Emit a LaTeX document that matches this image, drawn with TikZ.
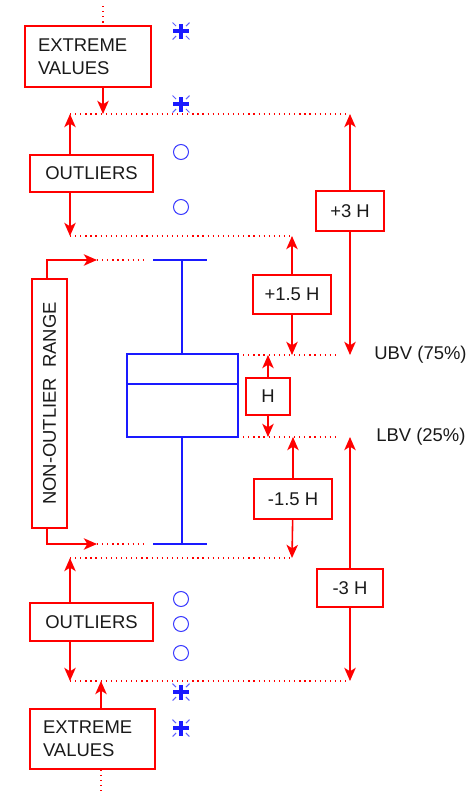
\documentclass[tikz,border=0pt]{standalone}
\usepackage{fontspec}
\setmainfont{Liberation Sans}
\usetikzlibrary{arrows.meta, positioning}
\definecolor{SignalRed}{HTML}{FF0000}
\definecolor{PlotBlue}{HTML}{1A1AFF}
\definecolor{InkBlack}{HTML}{1A1A1A}

\tikzset{
  tagbox/.style={draw=SignalRed, line width=0.9pt, fill=white, text=InkBlack,
                 inner sep=0pt, font=\fontsize{10.5}{13}\selectfont},
  guide/.style={draw=SignalRed, line width=0.9pt, dash pattern=on 0.7pt off 2.2pt},
  pointer/.style={draw=SignalRed, line width=0.9pt,
                  -{Stealth[length=7.5pt,width=6.5pt,inset=2pt]}},
  whisker/.style={draw=PlotBlue, line width=0.9pt},
  outmark/.style={draw=PlotBlue!85, line width=0.6pt},
  extmark/.pic={
    \draw[PlotBlue, line width=2.4pt] (-0.16cm,0) -- (0.16cm,0) (0,-0.15cm) -- (0,0.15cm);
    \foreach \a in {45,135,225,315}
      \draw[PlotBlue!70, line width=0.6pt] (\a:0.14cm) -- (\a:0.24cm);
  }
}

\begin{document}
\begin{tikzpicture}[x=0.02cm, y=-0.02cm]
  \useasboundingbox (0,0) rectangle (475,795);

  % labelled boxes
  \node[tagbox, text width=2.0cm, inner xsep=0.26cm, minimum height=1.22cm, align=left]
    (extTop) at (88,56.5) {EXTREME\\VALUES};
  \node[tagbox, minimum width=2.46cm, minimum height=0.74cm] (outTop) at (91.5,173.5) {OUTLIERS};
  \node[tagbox, rotate=90, minimum width=4.98cm, minimum height=0.7cm]
    (nonOut) at (49.5,403.5) {NON-OUTLIER~~RANGE};
  \node[tagbox, minimum width=1.36cm, minimum height=0.8cm] (plus3) at (350,211) {+3 H};
  \node[tagbox, minimum width=1.56cm, minimum height=0.78cm] (plus15) at (292,294.5) {+1.5 H};
  \node[tagbox, minimum width=0.88cm, minimum height=0.74cm] (hBox) at (268,396.5) {H};
  \node[tagbox, minimum width=1.56cm, minimum height=0.8cm] (minus15) at (293,499) {-1.5 H};
  \node[tagbox, minimum width=1.32cm, minimum height=0.76cm] (minus3) at (350,588) {-3 H};
  \node[tagbox, minimum width=2.46cm, minimum height=0.76cm] (outBot) at (91.5,622) {OUTLIERS};
  \node[tagbox, text width=1.98cm, inner xsep=0.26cm, minimum height=1.2cm, align=left]
    (extBot) at (92.5,739) {EXTREME\\VALUES};

  % quartile labels
  \node[anchor=west, inner sep=0pt, text=InkBlack, font=\fontsize{10.5}{13}\selectfont]
    (ubv) at (374,355) {UBV (75\%)};
  \node[anchor=west, inner sep=0pt, text=InkBlack, font=\fontsize{10.5}{13}\selectfont]
    (lbv) at (376,437) {LBV (25\%)};

  % fence coordinates
  \coordinate (xTopHit) at (103,114);
  \coordinate (extTopTail) at (103,6);
  \coordinate (uOuterL) at (70,114);
  \coordinate (uOuterR) at (350,114);
  \coordinate (uInnerL) at (70,236);
  \coordinate (uInnerR) at (292,236);
  \coordinate (q3L) at (238,355);
  \coordinate (q3R) at (337,355);
  \coordinate (q1L) at (238,437);
  \coordinate (q1R) at (337,437);
  \coordinate (lInnerL) at (70,558);
  \coordinate (lInnerR) at (292,558);
  \coordinate (lOuterL) at (70,681);
  \coordinate (lOuterR) at (350,681);
  \coordinate (xBotHit) at (101,681);
  \coordinate (extBotTail) at (101,795);
  \coordinate (rangeStem) at (47,0);
  \coordinate (rangeTop) at (97,260);
  \coordinate (rangeBot) at (97,544);

  % dotted guides
  \draw[guide] (extTopTail) -- (extTop.north -| extTopTail);
  \draw[guide] (uOuterL) -- (uOuterR);
  \draw[guide] (uInnerL) -- (uInnerR);
  \draw[guide] (q3L) -- (q3R);
  \draw[guide] (q1L) -- (q1R);
  \draw[guide] (lInnerL) -- (lInnerR);
  \draw[guide] (lOuterL) -- (lOuterR);
  \draw[guide] (rangeTop) -- (143,260);
  \draw[guide] (rangeBot) -- (143,544);
  \draw[guide] (extBot.south -| extBotTail) -- (extBotTail);

  % box plot
  \draw[whisker] (127,354) rectangle (238,437) (127,384) -- (238,384)
    (182,354) -- (182,260) (153,260) -- (207,260)
    (182,437) -- (182,544) (153,544) -- (207,544);
  \foreach \y in {152,207,599,624,653}
    \draw[outmark] (181,\y) circle[radius=0.15cm];
  \foreach \y in {31,104,692,728}
    \pic at (181,\y) {extmark};

  % arrows
  \draw[pointer] (extTop.south -| xTopHit) -- (xTopHit);
  \draw[pointer] (outTop.north -| uOuterL) -- (uOuterL);
  \draw[pointer] (outTop.south -| uInnerL) -- (uInnerL);
  \draw[pointer] (nonOut.east -| rangeStem) |- (rangeTop);
  \draw[pointer] (nonOut.west -| rangeStem) |- (rangeBot);
  \draw[pointer] (plus3) -- (uOuterR);
  \draw[pointer] (plus3) -- (plus3 |- q3L);
  \draw[pointer] (plus15) -- (uInnerR);
  \draw[pointer] (plus15) -- (plus15 |- q3L);
  \draw[pointer] (hBox) -- (hBox |- q3L);
  \draw[pointer] (hBox) -- (hBox |- q1L);
  \draw[pointer] (minus15) -- (minus15 |- q1L);
  \draw[pointer] (minus15) -- (lInnerR);
  \draw[pointer] (minus3) -- (minus3 |- q1L);
  \draw[pointer] (minus3) -- (lOuterR);
  \draw[pointer] (outBot.north -| lInnerL) -- (lInnerL);
  \draw[pointer] (outBot.south -| lOuterL) -- (lOuterL);
  \draw[pointer] (extBot.north -| xBotHit) -- (xBotHit);
\end{tikzpicture}
\end{document}
